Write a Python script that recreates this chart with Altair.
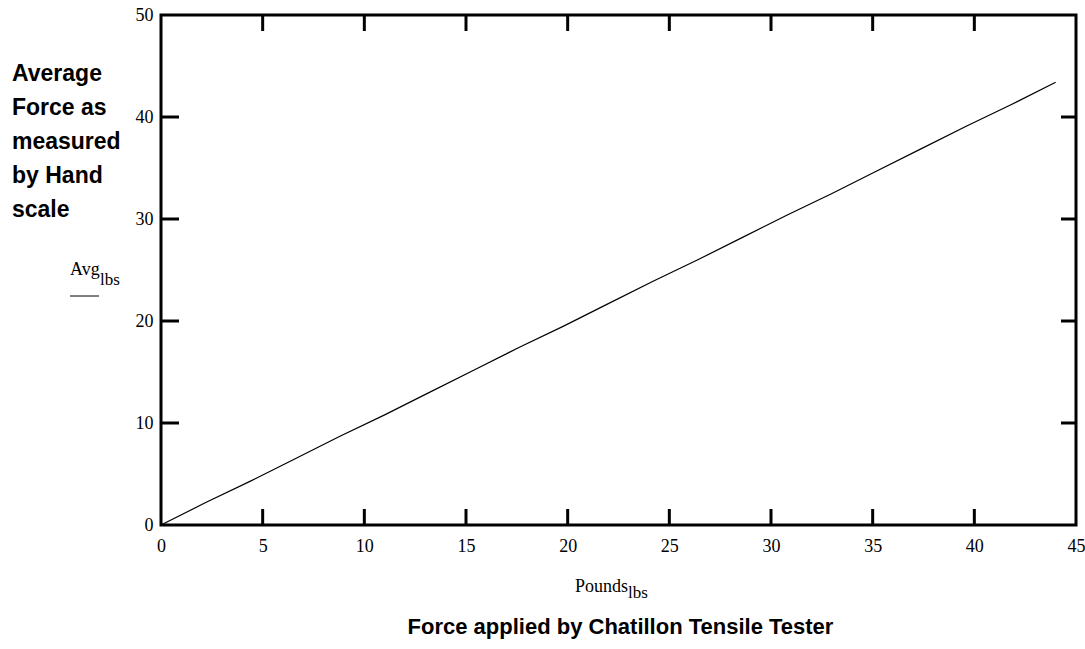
import altair as alt
import pandas as pd

# Force applied by the tensile tester (lbs) and average hand-scale reading (lbs)
pounds_lbs = [0, 2.2, 4.4, 6.6, 8.8, 11.0, 13.2, 15.4, 17.6, 19.8, 22.0,
              24.2, 26.4, 28.6, 30.8, 33.0, 35.2, 37.4, 39.6, 41.8, 44.0]
avg_lbs = [0, 2.2, 4.3, 6.5, 8.7, 10.8, 13.0, 15.2, 17.4, 19.5, 21.7,
           23.9, 26.0, 28.2, 30.4, 32.5, 34.7, 36.9, 39.1, 41.2, 43.4]

x_ticks = [0, 5, 10, 15, 20, 25, 30, 35, 40, 45]
y_ticks = [0, 10, 20, 30, 40, 50]
x_inner_ticks = [5, 10, 15, 20, 25, 30, 35, 40]
y_inner_ticks = [10, 20, 30, 40]

y_caption = ["Average", "Force as", "measured", "by Hand", "scale"]
x_caption = "Force applied by Chatillon Tensile Tester"

W, H = 915, 510
SERIF = "Liberation Serif"
SANS = "Liberation Sans"

df = pd.DataFrame({"Pounds": pounds_lbs, "Avg": avg_lbs})
xt = pd.DataFrame({"v": x_inner_ticks})
yt = pd.DataFrame({"v": y_inner_ticks})

xscale = alt.Scale(domain=[0, 45], nice=False, zero=False)
yscale = alt.Scale(domain=[0, 50], nice=False, zero=False)

x_axis = alt.Axis(values=x_ticks, labelFont=SERIF, labelFontSize=18,
                  labelColor="black", labelPadding=12, ticks=False,
                  domain=False, grid=False, labelFlush=False,
                  labelOverlap=False, title=None)
y_axis = alt.Axis(values=y_ticks, labelFont=SERIF, labelFontSize=18,
                  labelColor="black", labelPadding=8, ticks=False,
                  domain=False, grid=False, labelFlush=False,
                  labelOverlap=False, title=None)

line = alt.Chart(df).mark_line(color="black", strokeWidth=1.2).encode(
    x=alt.X("Pounds:Q", scale=xscale, axis=x_axis),
    y=alt.Y("Avg:Q", scale=yscale, axis=y_axis),
)

# inward tick marks on all four sides of the frame
tick_style = dict(color="black", strokeWidth=3)
bottom_ticks = alt.Chart(xt).mark_rule(**tick_style).encode(
    x=alt.X("v:Q", scale=xscale, axis=x_axis), y=alt.value(H), y2=alt.value(H - 16))
top_ticks = alt.Chart(xt).mark_rule(**tick_style).encode(
    x=alt.X("v:Q", scale=xscale, axis=x_axis), y=alt.value(0), y2=alt.value(16))
left_ticks = alt.Chart(yt).mark_rule(**tick_style).encode(
    y=alt.Y("v:Q", scale=yscale, axis=y_axis), x=alt.value(0), x2=alt.value(18))
right_ticks = alt.Chart(yt).mark_rule(**tick_style).encode(
    y=alt.Y("v:Q", scale=yscale, axis=y_axis), x=alt.value(W), x2=alt.value(W - 15))

# left-hand caption block
cap_left = alt.Chart().mark_text(
    align="left", baseline="alphabetic", font=SANS, fontSize=23,
    fontWeight="bold", color="black", lineHeight=34,
).encode(x=alt.value(-149), y=alt.value(66), text=alt.value(y_caption))

# variable names with subscripts
avg_name = alt.Chart().mark_text(
    align="left", baseline="alphabetic", font=SERIF, fontSize=18, color="black"
).encode(x=alt.value(-91), y=alt.value(260), text=alt.value("Avg"))
avg_sub = alt.Chart().mark_text(
    align="left", baseline="alphabetic", font=SERIF, fontSize=17, color="black"
).encode(x=alt.value(-61), y=alt.value(270), text=alt.value("lbs"))
avg_bar = alt.Chart().mark_rule(color="black", strokeWidth=1).encode(
    x=alt.value(-91), x2=alt.value(-62), y=alt.value(281))

pounds_name = alt.Chart().mark_text(
    align="left", baseline="alphabetic", font=SERIF, fontSize=18, color="black"
).encode(x=alt.value(414), y=alt.value(577), text=alt.value("Pounds"))
pounds_sub = alt.Chart().mark_text(
    align="left", baseline="alphabetic", font=SERIF, fontSize=17, color="black"
).encode(x=alt.value(467), y=alt.value(583), text=alt.value("lbs"))

cap_bottom = alt.Chart().mark_text(
    align="center", baseline="alphabetic", font=SANS, fontSize=22,
    fontWeight="bold", color="black",
).encode(x=alt.value(W / 2 + 2), y=alt.value(619), text=alt.value(x_caption))

chart = alt.layer(
    line, bottom_ticks, top_ticks, left_ticks, right_ticks,
    cap_left, avg_name, avg_sub, avg_bar, pounds_name, pounds_sub, cap_bottom,
).properties(
    width=W, height=H,
    autosize=alt.AutoSizeParams(type="none"),
    padding={"left": 161, "top": 15, "right": 9, "bottom": 124},
    background="white",
).configure_view(
    stroke="black", strokeWidth=3,
)

chart.save("out.html", embed_options={"renderer": "svg", "actions": False})
